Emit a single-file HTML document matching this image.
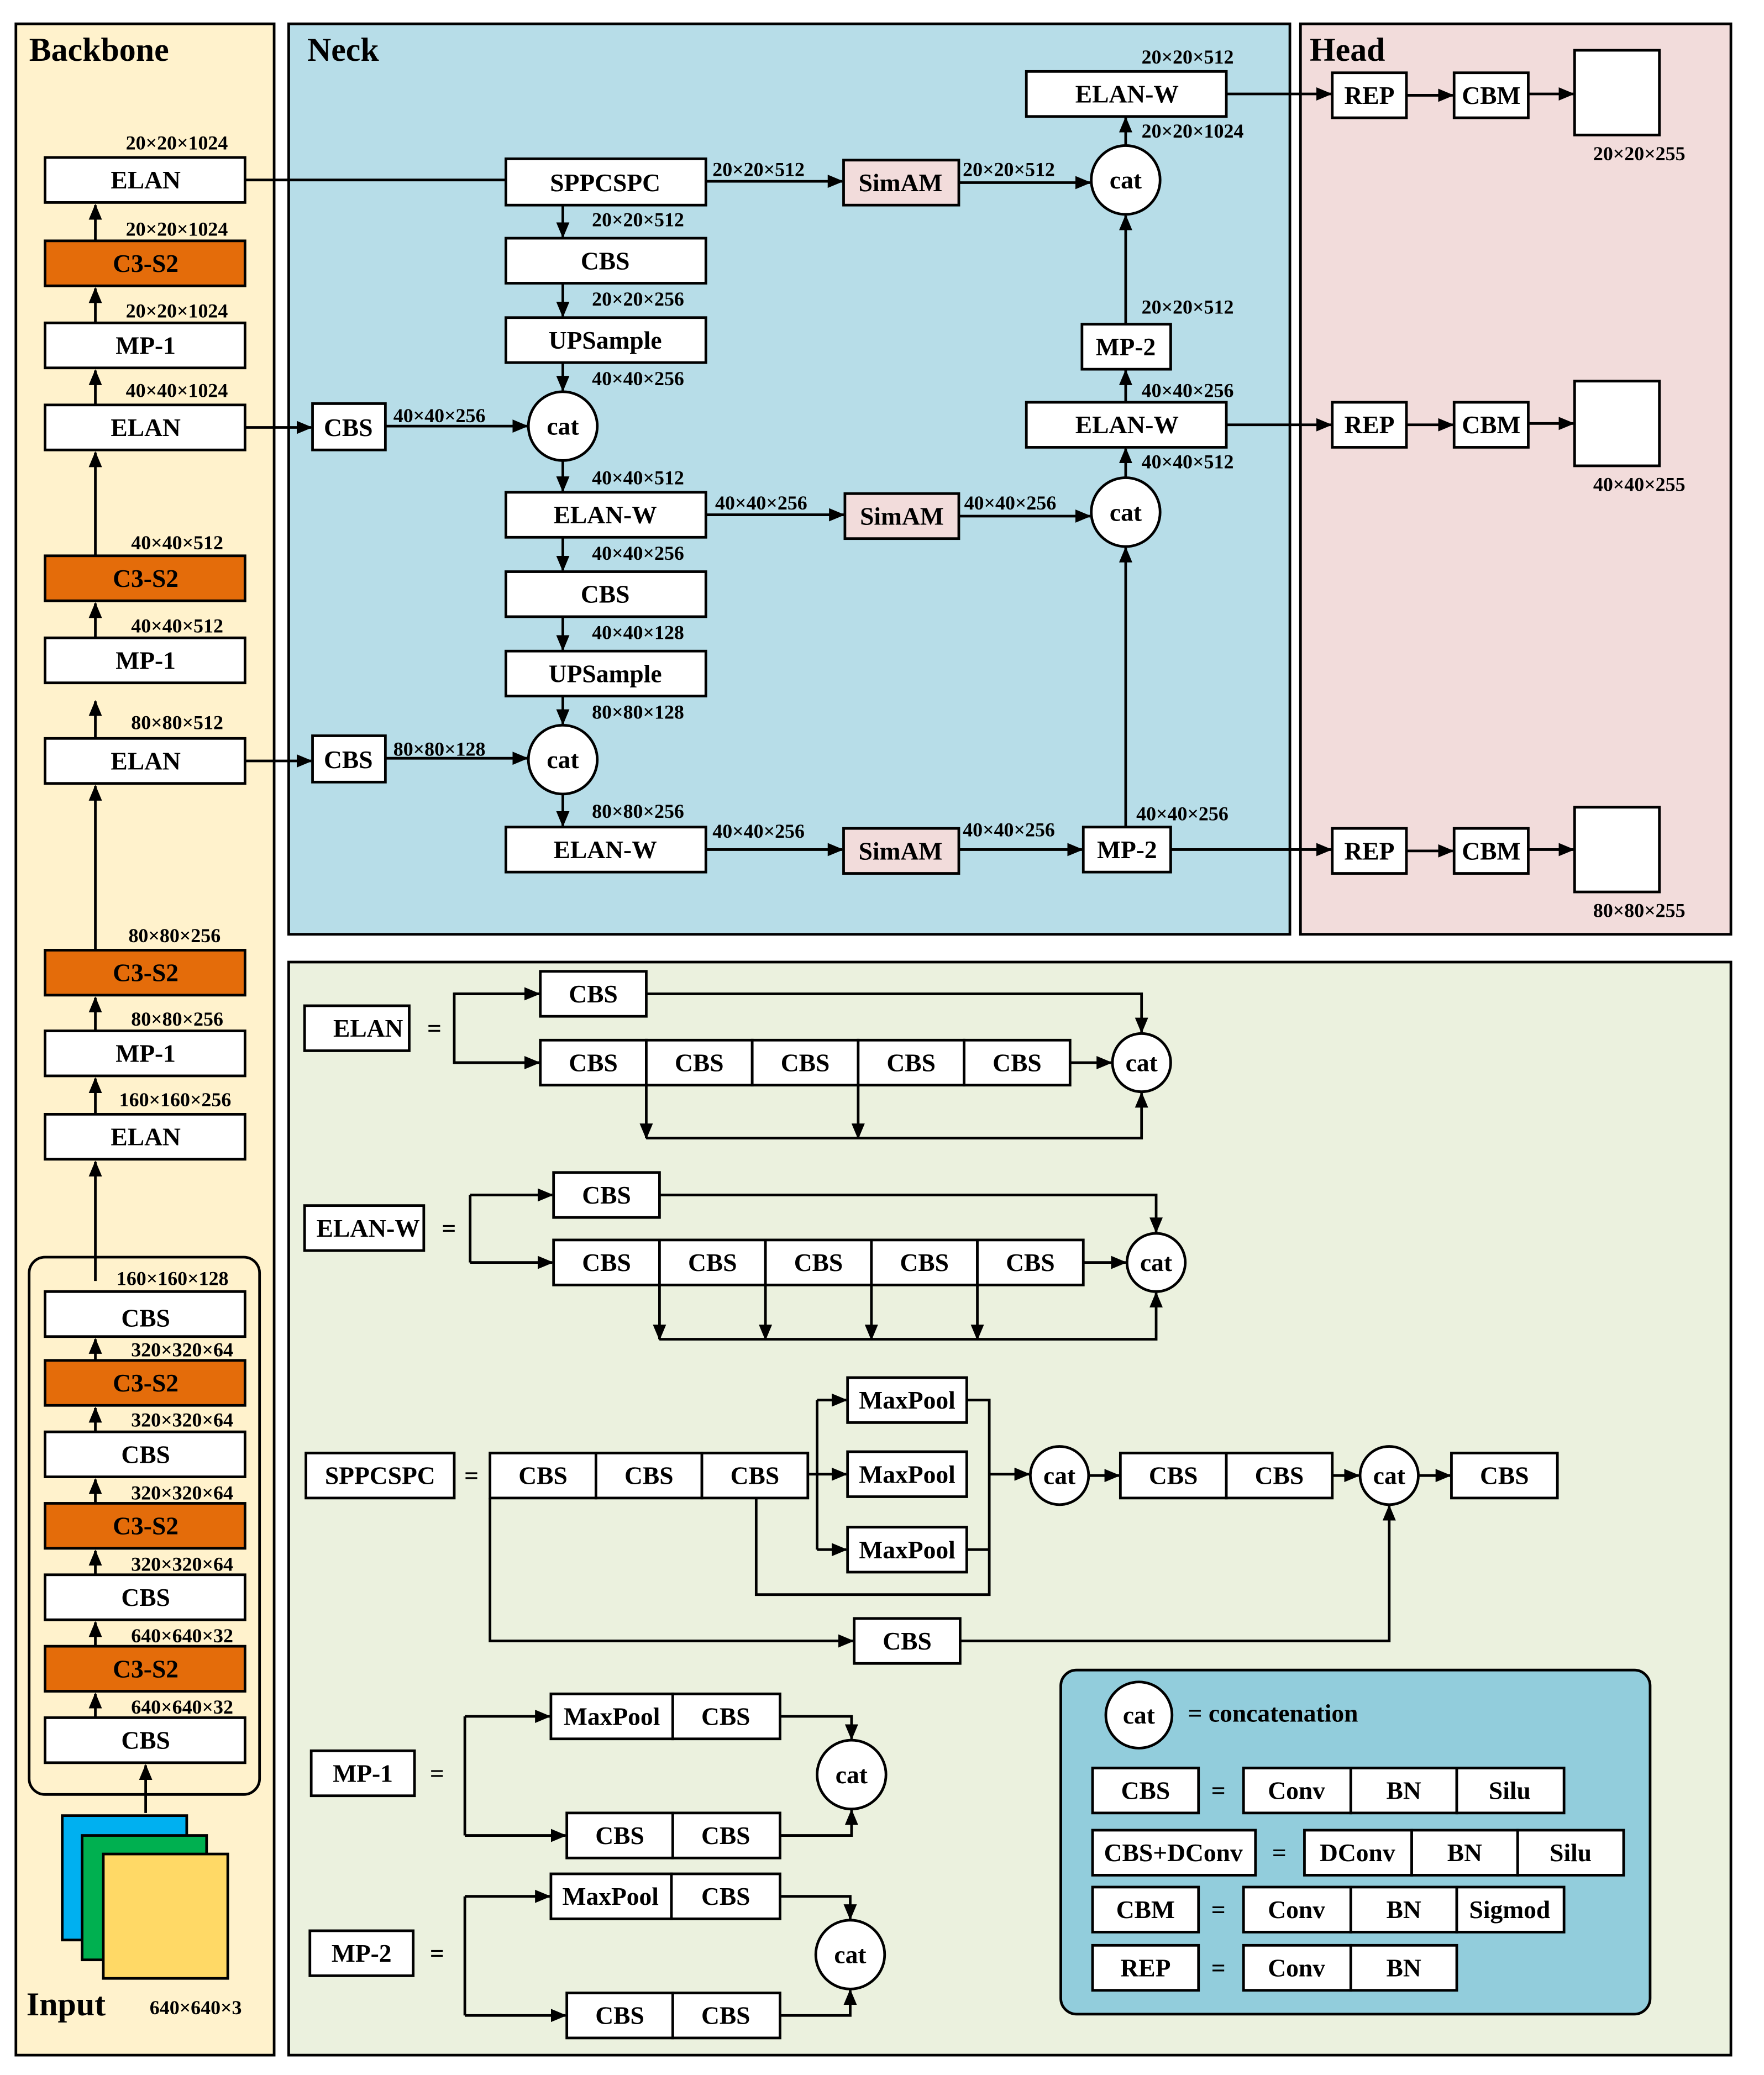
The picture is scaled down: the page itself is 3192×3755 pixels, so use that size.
<!DOCTYPE html>
<html><head><meta charset="utf-8"><style>
html,body{margin:0;padding:0;background:#fff}
svg{display:block}
text{font-family:"Liberation Serif",serif;font-weight:bold;fill:#000}
.b{font-size:19px;text-anchor:middle;dominant-baseline:central}
.l{font-size:15px}
.t{font-size:25px}
.bx{fill:#fff;stroke:#000;stroke-width:2}
.or{fill:#e46c0a;stroke:#000;stroke-width:2}
.pk{fill:#f2dcdb;stroke:#000;stroke-width:2}
.ln{fill:none;stroke:#000;stroke-width:2}
.a{fill:none;stroke:#000;stroke-width:2;marker-end:url(#ar)}
</style></head><body>
<svg width="3192" height="3755" viewBox="0 0 1332 1568" preserveAspectRatio="none" xmlns="http://www.w3.org/2000/svg">
<defs><marker id="ar" markerUnits="userSpaceOnUse" markerWidth="12" markerHeight="10" refX="11" refY="5" orient="auto"><path d="M0,0 L12,5 L0,10 z" fill="#000"/></marker></defs>
<rect width="1340" height="1580" fill="#fff"/>
<rect x="12" y="18" width="195" height="1535" fill="#fff2cc" stroke="#000" stroke-width="2"/>
<rect x="218" y="18" width="756" height="688" fill="#b7dde8" stroke="#000" stroke-width="2"/>
<rect x="982" y="18" width="325" height="688" fill="#f2dcdb" stroke="#000" stroke-width="2"/>
<rect x="218" y="727" width="1089" height="826" fill="#ebf1de" stroke="#000" stroke-width="2"/>
<rect x="801" y="1262" width="445" height="260" rx="12" fill="#92cddc" stroke="#000" stroke-width="2"/>
<text x="22" y="46" class="t">Backbone</text>
<text x="232" y="46" class="t">Neck</text>
<text x="989" y="46" class="t">Head</text>
<text x="20" y="1523" class="t">Input</text>
<text x="113" y="1522" class="l">640×640×3</text>

<rect x="22" y="950" width="174" height="406" rx="12" fill="none" stroke="#000" stroke-width="2"/>
<g>
<rect x="34" y="119" width="151" height="34" class="bx"/><text x="110" y="136" class="b">ELAN</text>
<rect x="34" y="182" width="151" height="34" class="or"/><text x="110" y="199" class="b">C3-S2</text>
<rect x="34" y="244" width="151" height="34" class="bx"/><text x="110" y="261" class="b">MP-1</text>
<rect x="34" y="306" width="151" height="34" class="bx"/><text x="110" y="323" class="b">ELAN</text>
<rect x="34" y="420" width="151" height="34" class="or"/><text x="110" y="437" class="b">C3-S2</text>
<rect x="34" y="482" width="151" height="34" class="bx"/><text x="110" y="499" class="b">MP-1</text>
<rect x="34" y="558" width="151" height="34" class="bx"/><text x="110" y="575" class="b">ELAN</text>
<rect x="34" y="718" width="151" height="34" class="or"/><text x="110" y="735" class="b">C3-S2</text>
<rect x="34" y="779" width="151" height="34" class="bx"/><text x="110" y="796" class="b">MP-1</text>
<rect x="34" y="842" width="151" height="34" class="bx"/><text x="110" y="859" class="b">ELAN</text>
<rect x="34" y="976" width="151" height="34" class="bx"/><text x="110" y="996" class="b">CBS</text>
<rect x="34" y="1028" width="151" height="34" class="or"/><text x="110" y="1045" class="b">C3-S2</text>
<rect x="34" y="1082" width="151" height="34" class="bx"/><text x="110" y="1099" class="b">CBS</text>
<rect x="34" y="1136" width="151" height="34" class="or"/><text x="110" y="1153" class="b">C3-S2</text>
<rect x="34" y="1190" width="151" height="34" class="bx"/><text x="110" y="1207" class="b">CBS</text>
<rect x="34" y="1244" width="151" height="34" class="or"/><text x="110" y="1261" class="b">C3-S2</text>
<rect x="34" y="1298" width="151" height="34" class="bx"/><text x="110" y="1315" class="b">CBS</text>
</g>
<g class="l">
<text x="95" y="113">20×20×1024</text>
<text x="95" y="178">20×20×1024</text>
<text x="95" y="240">20×20×1024</text>
<text x="95" y="300">40×40×1024</text>
<text x="99" y="415">40×40×512</text>
<text x="99" y="478">40×40×512</text>
<text x="99" y="551">80×80×512</text>
<text x="97" y="712">80×80×256</text>
<text x="99" y="775">80×80×256</text>
<text x="90" y="836">160×160×256</text>
<text x="88" y="971">160×160×128</text>
<text x="99" y="1025">320×320×64</text>
<text x="99" y="1078">320×320×64</text>
<text x="99" y="1133">320×320×64</text>
<text x="99" y="1187">320×320×64</text>
<text x="99" y="1241">640×640×32</text>
<text x="99" y="1295">640×640×32</text>
</g>
<g>
<path d="M72,182 V155" class="a"/>
<path d="M72,244 V218" class="a"/>
<path d="M72,306 V280" class="a"/>
<path d="M72,420 V342" class="a"/>
<path d="M72,482 V456" class="a"/>
<path d="M72,558 V530" class="a"/>
<path d="M72,718 V594" class="a"/>
<path d="M72,779 V754" class="a"/>
<path d="M72,842 V815" class="a"/>
<path d="M72,968 V878" class="a"/>
<path d="M72,1028 V1012" class="a"/>
<path d="M72,1082 V1064" class="a"/>
<path d="M72,1136 V1118" class="a"/>
<path d="M72,1190 V1172" class="a"/>
<path d="M72,1244 V1226" class="a"/>
<path d="M72,1298 V1280" class="a"/>
<path d="M110,1370 V1334" class="a"/>
</g>
<rect x="47" y="1372" width="94" height="94" fill="#00b0f0" stroke="#000" stroke-width="2"/>
<rect x="62" y="1387" width="94" height="94" fill="#00b050" stroke="#000" stroke-width="2"/>
<rect x="78" y="1401" width="94" height="94" fill="#ffd966" stroke="#000" stroke-width="2"/>

<rect x="382" y="120" width="151" height="35" class="bx"/><text x="457" y="138" class="b">SPPCSPC</text>
<rect x="382" y="180" width="151" height="34" class="bx"/><text x="457" y="197" class="b">CBS</text>
<rect x="382" y="240" width="151" height="34" class="bx"/><text x="457" y="257" class="b">UPSample</text>
<circle cx="425" cy="322" r="26" class="bx"/><text x="425" y="322" class="b">cat</text>
<rect x="382" y="372" width="151" height="34" class="bx"/><text x="457" y="389" class="b">ELAN-W</text>
<rect x="382" y="432" width="151" height="34" class="bx"/><text x="457" y="449" class="b">CBS</text>
<rect x="382" y="492" width="151" height="34" class="bx"/><text x="457" y="509" class="b">UPSample</text>
<circle cx="425" cy="574" r="26" class="bx"/><text x="425" y="574" class="b">cat</text>
<rect x="382" y="625" width="151" height="34" class="bx"/><text x="457" y="642" class="b">ELAN-W</text>
<rect x="236" y="305" width="55" height="35" class="bx"/><text x="263" y="323" class="b">CBS</text>
<rect x="236" y="556" width="55" height="35" class="bx"/><text x="263" y="574" class="b">CBS</text>
<rect x="637" y="121" width="87" height="34" class="pk"/><text x="680" y="138" class="b">SimAM</text>
<rect x="638" y="373" width="86" height="34" class="pk"/><text x="681" y="390" class="b">SimAM</text>
<rect x="637" y="626" width="87" height="34" class="pk"/><text x="680" y="643" class="b">SimAM</text>
<circle cx="850" cy="136" r="26" class="bx"/><text x="850" y="136" class="b">cat</text>
<circle cx="850" cy="387" r="26" class="bx"/><text x="850" y="387" class="b">cat</text>
<rect x="775" y="54" width="151" height="34" class="bx"/><text x="851" y="71" class="b">ELAN-W</text>
<rect x="817" y="245" width="67" height="34" class="bx"/><text x="850" y="262" class="b">MP-2</text>
<rect x="775" y="304" width="151" height="34" class="bx"/><text x="851" y="321" class="b">ELAN-W</text>
<rect x="818" y="625" width="66" height="34" class="bx"/><text x="851" y="642" class="b">MP-2</text>
<g>
<path d="M185,136 H382" class="ln"/>
<path d="M533,137 H636" class="a"/>
<path d="M724,138 H823" class="a"/>
<path d="M850,110 V89" class="a"/>
<path d="M926,71 H1005" class="a"/>
<path d="M425,155 V179" class="a"/>
<path d="M425,214 V239" class="a"/>
<path d="M425,274 V295" class="a"/>
<path d="M185,323 H235" class="a"/>
<path d="M291,322 H398" class="a"/>
<path d="M425,348 V371" class="a"/>
<path d="M533,389 H637" class="a"/>
<path d="M724,390 H823" class="a"/>
<path d="M425,406 V431" class="a"/>
<path d="M425,466 V491" class="a"/>
<path d="M425,526 V547" class="a"/>
<path d="M185,575 H235" class="a"/>
<path d="M291,573 H398" class="a"/>
<path d="M425,600 V624" class="a"/>
<path d="M533,642 H636" class="a"/>
<path d="M724,642 H817" class="a"/>
<path d="M850,625 V414" class="a"/>
<path d="M884,642 H1005" class="a"/>
<path d="M850,361 V339" class="a"/>
<path d="M850,304 V280" class="a"/>
<path d="M850,245 V163" class="a"/>
<path d="M926,321 H1005" class="a"/>
</g>
<g class="l">
<text x="538" y="133">20×20×512</text>
<text x="727" y="133">20×20×512</text>
<text x="862" y="48">20×20×512</text>
<text x="862" y="104">20×20×1024</text>
<text x="447" y="171">20×20×512</text>
<text x="447" y="231">20×20×256</text>
<text x="447" y="291">40×40×256</text>
<text x="297" y="319">40×40×256</text>
<text x="447" y="366">40×40×512</text>
<text x="540" y="385">40×40×256</text>
<text x="728" y="385">40×40×256</text>
<text x="447" y="423">40×40×256</text>
<text x="447" y="483">40×40×128</text>
<text x="447" y="543">80×80×128</text>
<text x="297" y="571">80×80×128</text>
<text x="447" y="618">80×80×256</text>
<text x="538" y="633">40×40×256</text>
<text x="727" y="632">40×40×256</text>
<text x="858" y="620">40×40×256</text>
<text x="862" y="237">20×20×512</text>
<text x="862" y="300">40×40×256</text>
<text x="862" y="354">40×40×512</text>
</g>

<g>
<rect x="1006" y="55" width="56" height="34" class="bx"/><text x="1034" y="72" class="b">REP</text>
<rect x="1098" y="55" width="56" height="34" class="bx"/><text x="1126" y="72" class="b">CBM</text>
<rect x="1189" y="38" width="64" height="64" class="bx"/>
<path d="M1062,72 H1097" class="a"/><path d="M1154,71 H1188" class="a"/>
<text x="1203" y="121" class="l">20×20×255</text>
<rect x="1006" y="304" width="56" height="34" class="bx"/><text x="1034" y="321" class="b">REP</text>
<rect x="1098" y="304" width="56" height="34" class="bx"/><text x="1126" y="321" class="b">CBM</text>
<rect x="1189" y="288" width="64" height="64" class="bx"/>
<path d="M1062,321 H1097" class="a"/><path d="M1154,320 H1188" class="a"/>
<text x="1203" y="371" class="l">40×40×255</text>
<rect x="1006" y="626" width="56" height="34" class="bx"/><text x="1034" y="643" class="b">REP</text>
<rect x="1098" y="626" width="56" height="34" class="bx"/><text x="1126" y="643" class="b">CBM</text>
<rect x="1189" y="610" width="64" height="64" class="bx"/>
<path d="M1062,643 H1097" class="a"/><path d="M1154,642 H1188" class="a"/>
<text x="1203" y="693" class="l">80×80×255</text>
</g>

<rect x="230" y="760" width="79" height="34" class="bx"/><text x="278" y="777" class="b">ELAN</text>
<text x="328" y="777" class="b">=</text>
<rect x="408" y="734" width="80" height="34" class="bx"/><text x="448" y="751" class="b">CBS</text>
<g>
<rect x="408" y="786" width="80" height="34" class="bx"/><text x="448" y="803" class="b">CBS</text>
<rect x="488" y="786" width="80" height="34" class="bx"/><text x="528" y="803" class="b">CBS</text>
<rect x="568" y="786" width="80" height="34" class="bx"/><text x="608" y="803" class="b">CBS</text>
<rect x="648" y="786" width="80" height="34" class="bx"/><text x="688" y="803" class="b">CBS</text>
<rect x="728" y="786" width="80" height="34" class="bx"/><text x="768" y="803" class="b">CBS</text>
</g>
<circle cx="862" cy="803" r="22" class="bx"/><text x="862" y="803" class="b">cat</text>
<path d="M408,751 H343 V803 H407" class="ln"/>
<path d="M343,751 H407" class="a"/><path d="M343,803 H407" class="a"/>
<path d="M488,751 H862 V780" class="a"/>
<path d="M808,803 H839" class="a"/>
<path d="M488,820 V860" class="a"/><path d="M648,820 V860" class="a"/>
<path d="M488,860 H862 V826" class="a"/>

<rect x="230" y="911" width="90" height="34" class="bx"/><text x="278" y="928" class="b">ELAN-W</text>
<text x="339" y="928" class="b">=</text>
<rect x="418" y="886" width="80" height="34" class="bx"/><text x="458" y="903" class="b">CBS</text>
<g>
<rect x="418" y="937" width="80" height="34" class="bx"/><text x="458" y="954" class="b">CBS</text>
<rect x="498" y="937" width="80" height="34" class="bx"/><text x="538" y="954" class="b">CBS</text>
<rect x="578" y="937" width="80" height="34" class="bx"/><text x="618" y="954" class="b">CBS</text>
<rect x="658" y="937" width="80" height="34" class="bx"/><text x="698" y="954" class="b">CBS</text>
<rect x="738" y="937" width="80" height="34" class="bx"/><text x="778" y="954" class="b">CBS</text>
</g>
<circle cx="873" cy="954" r="22" class="bx"/><text x="873" y="954" class="b">cat</text>
<path d="M355,903 V954" class="ln"/>
<path d="M355,903 H417" class="a"/><path d="M355,954 H417" class="a"/>
<path d="M498,903 H873 V931" class="a"/>
<path d="M818,954 H850" class="a"/>
<path d="M498,971 V1012" class="a"/><path d="M578,971 V1012" class="a"/><path d="M658,971 V1012" class="a"/><path d="M738,971 V1012" class="a"/>
<path d="M498,1012 H873 V977" class="a"/>

<rect x="231" y="1098" width="112" height="34" class="bx"/><text x="287" y="1115" class="b">SPPCSPC</text>
<text x="356" y="1115" class="b">=</text>
<rect x="370" y="1098" width="80" height="34" class="bx"/><text x="410" y="1115" class="b">CBS</text>
<rect x="450" y="1098" width="80" height="34" class="bx"/><text x="490" y="1115" class="b">CBS</text>
<rect x="530" y="1098" width="80" height="34" class="bx"/><text x="570" y="1115" class="b">CBS</text>
<rect x="640" y="1041" width="90" height="34" class="bx"/><text x="685" y="1058" class="b">MaxPool</text>
<rect x="640" y="1097" width="90" height="34" class="bx"/><text x="685" y="1114" class="b">MaxPool</text>
<rect x="640" y="1154" width="90" height="34" class="bx"/><text x="685" y="1171" class="b">MaxPool</text>
<path d="M617,1058 V1171" class="ln"/>
<path d="M617,1058 H639" class="a"/><path d="M610,1114 H639" class="a"/><path d="M617,1171 H639" class="a"/>
<path d="M730,1058 H747 V1205 H571 V1132" class="ln"/>
<path d="M730,1171 H747" class="ln"/>
<path d="M747,1114 H777" class="a"/>
<circle cx="800" cy="1115" r="22" class="bx"/><text x="800" y="1115" class="b">cat</text>
<path d="M822,1115 H845" class="a"/>
<rect x="846" y="1098" width="80" height="34" class="bx"/><text x="886" y="1115" class="b">CBS</text>
<rect x="926" y="1098" width="80" height="34" class="bx"/><text x="966" y="1115" class="b">CBS</text>
<path d="M1006,1115 H1026" class="a"/>
<circle cx="1049" cy="1115" r="22" class="bx"/><text x="1049" y="1115" class="b">cat</text>
<path d="M1071,1115 H1095" class="a"/>
<rect x="1096" y="1098" width="80" height="34" class="bx"/><text x="1136" y="1115" class="b">CBS</text>
<path d="M370,1132 V1240 H644" class="a"/>
<rect x="645" y="1223" width="80" height="34" class="bx"/><text x="685" y="1240" class="b">CBS</text>
<path d="M725,1240 H1049 V1138" class="a"/>

<rect x="235" y="1323" width="78" height="34" class="bx"/><text x="274" y="1340" class="b">MP-1</text>
<text x="330" y="1340" class="b">=</text>
<path d="M351,1297 V1387" class="ln"/>
<path d="M351,1297 H415" class="a"/><path d="M351,1387 H427" class="a"/>
<rect x="416" y="1280" width="92" height="34" class="bx"/><text x="462" y="1297" class="b">MaxPool</text>
<rect x="508" y="1280" width="81" height="34" class="bx"/><text x="548" y="1297" class="b">CBS</text>
<rect x="428" y="1370" width="80" height="34" class="bx"/><text x="468" y="1387" class="b">CBS</text>
<rect x="508" y="1370" width="81" height="34" class="bx"/><text x="548" y="1387" class="b">CBS</text>
<circle cx="643" cy="1341" r="26" class="bx"/><text x="643" y="1341" class="b">cat</text>
<path d="M589,1297 H643 V1314" class="a"/>
<path d="M589,1387 H643 V1368" class="a"/>

<rect x="234" y="1459" width="78" height="34" class="bx"/><text x="273" y="1476" class="b">MP-2</text>
<text x="330" y="1476" class="b">=</text>
<path d="M351,1433 V1523" class="ln"/>
<path d="M351,1433 H415" class="a"/><path d="M351,1523 H427" class="a"/>
<rect x="416" y="1416" width="91" height="34" class="bx"/><text x="461" y="1433" class="b">MaxPool</text>
<rect x="507" y="1416" width="82" height="34" class="bx"/><text x="548" y="1433" class="b">CBS</text>
<rect x="428" y="1506" width="80" height="34" class="bx"/><text x="468" y="1523" class="b">CBS</text>
<rect x="508" y="1506" width="81" height="34" class="bx"/><text x="548" y="1523" class="b">CBS</text>
<circle cx="642" cy="1477" r="26" class="bx"/><text x="642" y="1477" class="b">cat</text>
<path d="M589,1433 H642 V1450" class="a"/>
<path d="M589,1523 H642 V1504" class="a"/>

<circle cx="860" cy="1296" r="25" class="bx"/><text x="860" y="1296" class="b">cat</text>
<text x="897" y="1301" style="font-size:19px">= concatenation</text>
<rect x="825" y="1336" width="80" height="34" class="bx"/><text x="865" y="1353" class="b">CBS</text>
<text x="920" y="1353" class="b">=</text>
<rect x="939" y="1336" width="81" height="34" class="bx"/><text x="979" y="1353" class="b">Conv</text>
<rect x="1020" y="1336" width="80" height="34" class="bx"/><text x="1060" y="1353" class="b">BN</text>
<rect x="1100" y="1336" width="81" height="34" class="bx"/><text x="1140" y="1353" class="b">Silu</text>
<rect x="825" y="1383" width="123" height="34" class="bx"/><text x="886" y="1400" class="b">CBS+DConv</text>
<text x="966" y="1400" class="b">=</text>
<rect x="985" y="1383" width="81" height="34" class="bx"/><text x="1025" y="1400" class="b">DConv</text>
<rect x="1066" y="1383" width="80" height="34" class="bx"/><text x="1106" y="1400" class="b">BN</text>
<rect x="1146" y="1383" width="80" height="34" class="bx"/><text x="1186" y="1400" class="b">Silu</text>
<rect x="825" y="1426" width="80" height="34" class="bx"/><text x="865" y="1443" class="b">CBM</text>
<text x="920" y="1443" class="b">=</text>
<rect x="939" y="1426" width="81" height="34" class="bx"/><text x="979" y="1443" class="b">Conv</text>
<rect x="1020" y="1426" width="80" height="34" class="bx"/><text x="1060" y="1443" class="b">BN</text>
<rect x="1100" y="1426" width="81" height="34" class="bx"/><text x="1140" y="1443" class="b">Sigmod</text>
<rect x="825" y="1470" width="80" height="34" class="bx"/><text x="865" y="1487" class="b">REP</text>
<text x="920" y="1487" class="b">=</text>
<rect x="939" y="1470" width="81" height="34" class="bx"/><text x="979" y="1487" class="b">Conv</text>
<rect x="1020" y="1470" width="80" height="34" class="bx"/><text x="1060" y="1487" class="b">BN</text>
</svg>
</body></html>
